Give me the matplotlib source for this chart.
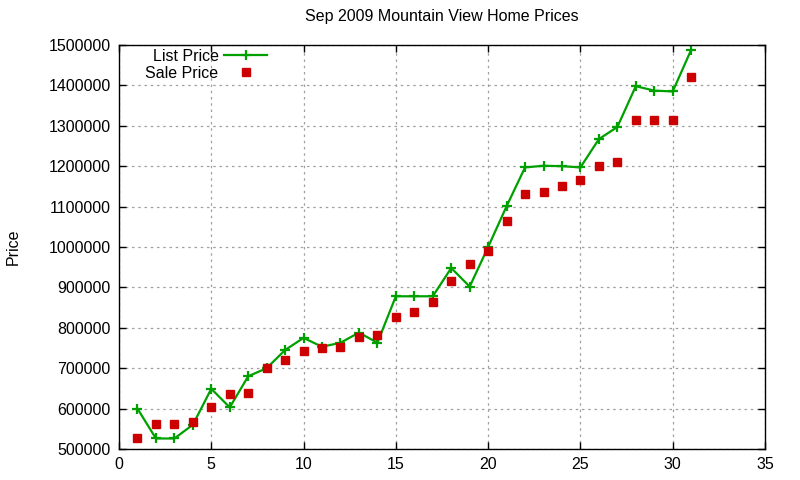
import matplotlib
matplotlib.use('Agg')
import matplotlib.pyplot as plt
from matplotlib.ticker import MultipleLocator

# Sep 2009, Mountain View
days = list(range(1, 32))
list_price = [600000, 526000, 526000, 560000, 649000, 603000, 680000, 700000,
              745000, 775000, 753000, 763000, 788000, 763000, 878000, 878000,
              878000, 948000, 902000, 1000000, 1101000, 1197000, 1201000,
              1200000, 1197000, 1267000, 1297000, 1398000, 1387000, 1385000,
              1488000]
sale_price = [526000, 561000, 561000, 566000, 605000, 635000, 638000, 700000,
              721000, 742000, 751000, 752000, 777000, 782000, 827000, 840000,
              865000, 917000, 957000, 991000, 1065000, 1132000, 1137000,
              1152000, 1167000, 1201000, 1211000, 1315000, 1315000, 1315000,
              1420000]

plt.rcParams['font.family'] = ['Liberation Sans', 'DejaVu Sans']
plt.rcParams['font.size'] = 11.5

fig = plt.figure(figsize=(8, 4.8), dpi=100)
ax = fig.add_axes([0.14875, 0.0646, 0.8075, 0.8417])

ax.plot(days, list_price, '-', color='#00a000', linewidth=1.6,
        marker='+', markersize=7, markeredgewidth=1.6, label='List Price')
ax.plot(days, sale_price, 's', color='#cc0000', markersize=6.3,
        linestyle='none', label='Sale Price')

ax.set_xlim(0, 35)
ax.set_ylim(500000, 1500000)
ax.xaxis.set_major_locator(MultipleLocator(5))
ax.yaxis.set_major_locator(MultipleLocator(100000))
ax.ticklabel_format(style='plain', useOffset=False)

ax.tick_params(direction='in', length=5, width=1, top=True, right=True,
               labelsize=11.5, colors='black', pad=6)
for s in ax.spines.values():
    s.set_linewidth(1.0)

ax.grid(True, color='#a0a0a0', linestyle=(0, (2, 3)), linewidth=0.9)
ax.set_axisbelow(True)

ax.set_title('Sep 2009 Mountain View Home Prices', fontsize=11.5, pad=17)
ax.set_ylabel('Price', fontsize=11.5, labelpad=20)

leg = ax.legend(loc='upper left', bbox_to_anchor=(0.031, 1.006), markerfirst=False,
                frameon=False, handlelength=2.7, handletextpad=0.35,
                labelspacing=0.12, borderaxespad=0.0, fontsize=11.5)

fig.savefig('out.png', dpi=100)
